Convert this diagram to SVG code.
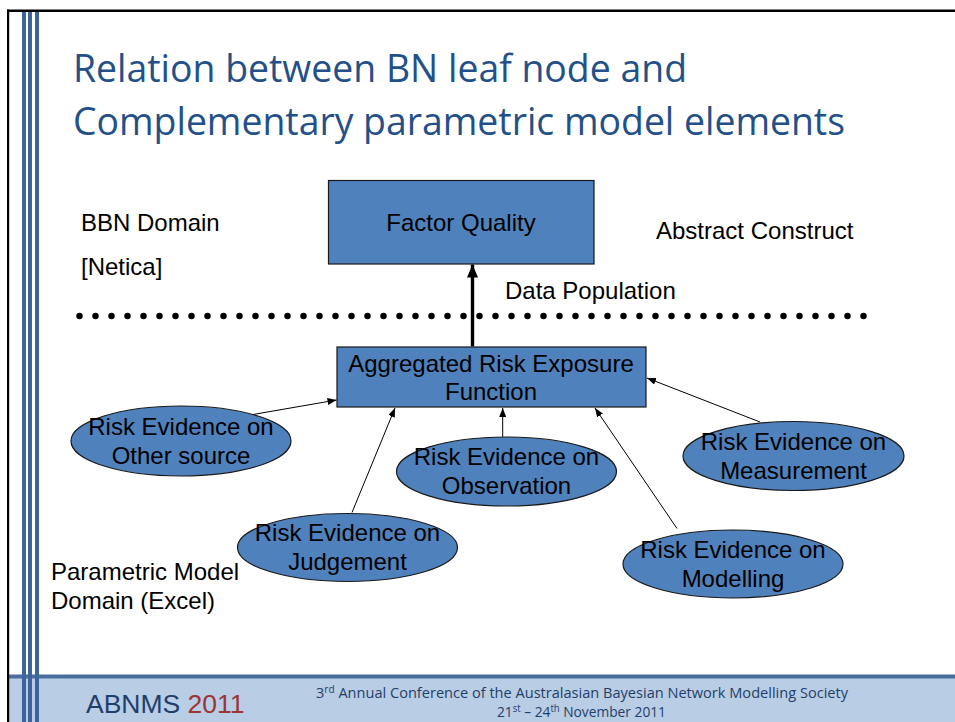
<svg xmlns="http://www.w3.org/2000/svg" width="955" height="722" viewBox="0 0 955 722">
<style>
.t{font-family:"Liberation Sans",Arial,sans-serif;font-size:24px;fill:#000}
.c{text-anchor:middle}
.title{font-family:"Open Sans","Noto Sans",sans-serif;font-size:38px;fill:#24508a}
.box{fill:#4f81bd;stroke:#1a1a1a;stroke-width:1.2}
.ell{fill:#4f81bd;stroke:#1a1a1a;stroke-width:1.2}
.thin{stroke:#000;stroke-width:1;fill:none;marker-end:url(#ah)}
.stripe{fill:#3d659b}
.foot{font-family:"Open Sans","Noto Sans",sans-serif;font-size:14.5px;fill:#1f3f6a}
</style>
<defs>
<marker id="ah" markerUnits="userSpaceOnUse" markerWidth="10" markerHeight="8" refX="9" refY="3.5" orient="auto">
<path d="M0,0 L9,3.5 L0,7 z" fill="#000"/>
</marker>
<marker id="ahb" markerUnits="userSpaceOnUse" markerWidth="14" markerHeight="12" refX="13" refY="5.5" orient="auto">
<path d="M0,0 L13,5.5 L0,11 z" fill="#000"/>
</marker>
</defs>
<rect x="0" y="0" width="955" height="722" fill="#fff"/>
<!-- footer band -->
<rect x="9" y="678" width="946" height="44" fill="#b9cde5"/>
<rect x="9" y="674.5" width="946" height="4" fill="#4a6f9f"/>
<!-- frame -->
<rect x="7" y="9.5" width="948" height="2.5" fill="#000"/>
<rect x="7" y="9.5" width="2.2" height="712.5" fill="#000"/>
<rect class="stripe" x="22" y="12" width="4" height="710"/>
<rect class="stripe" x="28" y="12" width="4" height="710"/>
<rect class="stripe" x="35" y="12" width="4" height="710"/>
<!-- title -->
<text class="title" x="73" y="82" textLength="614" lengthAdjust="spacingAndGlyphs">Relation between BN leaf node and</text>
<text class="title" x="73" y="135" textLength="772" lengthAdjust="spacingAndGlyphs">Complementary parametric model elements</text>
<!-- dotted separator -->
<line x1="79.5" y1="316" x2="864" y2="316" stroke="#000" stroke-width="6.5" stroke-linecap="round" stroke-dasharray="0 16"/>
<!-- labels -->
<text class="t" x="81" y="231">BBN Domain</text>
<text class="t" x="81" y="275">[Netica]</text>
<text class="t" x="656" y="239">Abstract Construct</text>
<text class="t" x="505" y="299">Data Population</text>
<text class="t" x="51" y="580">Parametric Model</text>
<text class="t" x="51" y="609">Domain (Excel)</text>
<!-- connectors -->
<g id="connectors">
<line x1="472.5" y1="346.5" x2="472.5" y2="264.5" stroke="#000" stroke-width="3.4" marker-end="url(#ahb)"/>
<line class="thin" x1="253" y1="414.5" x2="336.5" y2="400"/>
<line class="thin" x1="352" y1="512.5" x2="395" y2="408"/>
<line class="thin" x1="502.7" y1="437" x2="502.7" y2="408"/>
<line class="thin" x1="677" y1="528.5" x2="595" y2="408"/>
<line class="thin" x1="760" y1="422" x2="647" y2="378"/>
</g>
<!-- nodes -->
<g id="factor-quality">
<rect class="box" x="328.5" y="180.5" width="265.5" height="83.5"/>
<text class="t c" x="461" y="231">Factor Quality</text>
</g>
<g id="aggregated">
<rect class="box" x="337" y="347" width="309" height="60"/>
<text class="t c" x="491" y="372">Aggregated Risk Exposure</text>
<text class="t c" x="491" y="400">Function</text>
</g>
<g id="other-source">
<ellipse class="ell" cx="181" cy="441" rx="110" ry="35"/>
<text class="t c" x="181" y="435">Risk Evidence on</text>
<text class="t c" x="181" y="464">Other source</text>
</g>
<g id="observation">
<ellipse class="ell" cx="506.5" cy="471.5" rx="110" ry="34.5"/>
<text class="t c" x="506.5" y="465">Risk Evidence on</text>
<text class="t c" x="506.5" y="494">Observation</text>
</g>
<g id="measurement">
<ellipse class="ell" cx="793.5" cy="456" rx="110.5" ry="34.5"/>
<text class="t c" x="793.5" y="450">Risk Evidence on</text>
<text class="t c" x="793.5" y="478.5">Measurement</text>
</g>
<g id="judgement">
<ellipse class="ell" cx="347.5" cy="547.5" rx="110" ry="34"/>
<text class="t c" x="347.5" y="541">Risk Evidence on</text>
<text class="t c" x="347.5" y="570">Judgement</text>
</g>
<g id="modelling">
<ellipse class="ell" cx="733" cy="564" rx="110" ry="34"/>
<text class="t c" x="733" y="557.5">Risk Evidence on</text>
<text class="t c" x="733" y="586.5">Modelling</text>
</g>
<!-- footer text -->
<text x="86" y="713" font-family="Liberation Sans,Arial,sans-serif" font-size="26.5" fill="#1f3f6a">ABNMS <tspan fill="#9b3533">2011</tspan></text>
<text class="foot" x="316" y="698" textLength="532" lengthAdjust="spacingAndGlyphs">3<tspan font-size="10" dy="-5">rd</tspan><tspan dy="5"> Annual Conference of the Australasian Bayesian Network Modelling Society</tspan></text>
<text class="foot" x="497" y="717" textLength="169" lengthAdjust="spacingAndGlyphs">21<tspan font-size="10" dy="-5">st</tspan><tspan dy="5"> – 24</tspan><tspan font-size="10" dy="-5">th</tspan><tspan dy="5"> November 2011</tspan></text>
</svg>
